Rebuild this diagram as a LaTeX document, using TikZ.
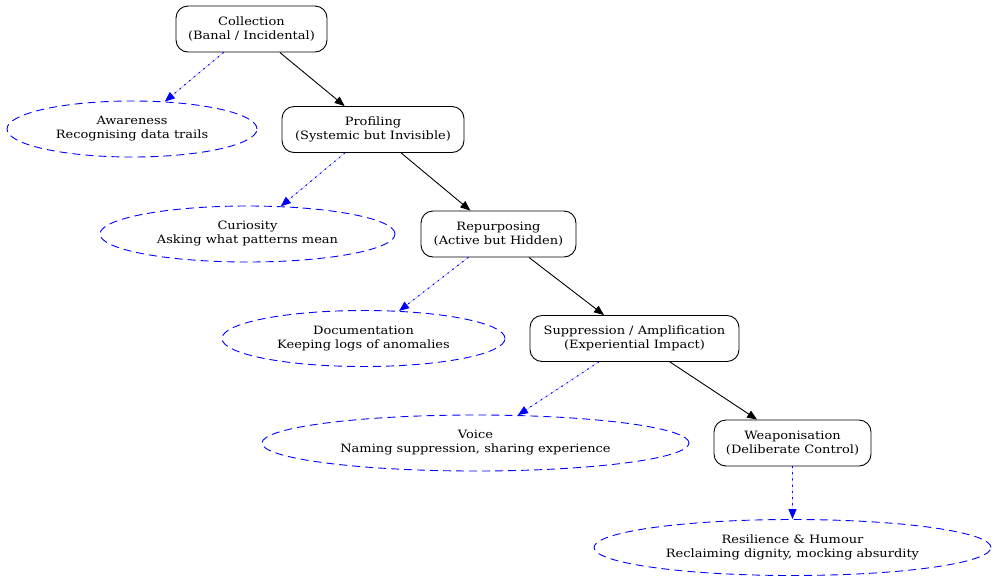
\documentclass[tikz,border=0pt]{standalone}
\usepackage{fontspec}
\setmainfont{DejaVu Serif}[FakeStretch=1.13]
\usetikzlibrary{shapes.geometric,arrows.meta}
\begin{document}
\begin{tikzpicture}[x=1pt,y=-1pt,
  every node/.style={font=\fontsize{11.5}{14}\selectfont, align=center, inner sep=0pt},
  stage/.style={draw=black, line width=0.9pt, rounded corners=12pt, rectangle, minimum height=46pt},
  response/.style={ellipse, draw=blue, dash pattern=on 8pt off 5pt, line width=0.9pt, minimum height=56pt},
  flow/.style={draw=black, line width=0.9pt, -{Triangle[length=10pt,width=8pt]}},
  react/.style={draw=blue, line width=1pt, dash pattern=on 1.2pt off 5pt, line cap=round, -{Triangle[length=10pt,width=8pt,line cap=butt]}, fill=blue}
]
\useasboundingbox (0,0) rectangle (998,582);
% main chain of stages
\node[stage, minimum width=151pt] (col) at (251.5,29) {Collection\\(Banal / Incidental)};
\node[stage, minimum width=182pt] (pro) at (373,129.5) {Profiling\\(Systemic but Invisible)};
\node[stage, minimum width=155pt] (rep) at (498.5,234) {Repurposing\\(Active but Hidden)};
\node[stage, minimum width=209pt] (sup) at (634.5,338.5) {Suppression / Amplification\\(Experiential Impact)};
\node[stage, minimum width=157pt] (wea) at (792.5,443) {Weaponisation\\(Deliberate Control)};
% responses
\node[response, minimum width=250pt] (awa) at (132,129) {Awareness\\Recognising data trails};
\node[response, minimum width=295pt] (cur) at (247.5,234) {Curiosity\\Asking what patterns mean};
\node[response, minimum width=283pt] (doc) at (363.5,338.5) {Documentation\\Keeping logs of anomalies};
\node[response, minimum width=427pt] (voi) at (475.5,443) {Voice\\Naming suppression, sharing experience};
\node[response, minimum width=397pt] (res) at (792.5,547.5) {Resilience \& Humour\\Reclaiming dignity, mocking absurdity};
% connectors
\draw[flow] (col) -- (pro);
\draw[flow] (pro) -- (rep);
\draw[flow] (rep) -- (sup);
\draw[flow] (sup) -- (wea);
\draw[react] (col) -- (awa);
\draw[react] (pro) -- (cur);
\draw[react] (rep) -- (doc);
\draw[react] (sup) -- (voi);
\draw[react] (wea) -- (res);
\end{tikzpicture}
\end{document}
